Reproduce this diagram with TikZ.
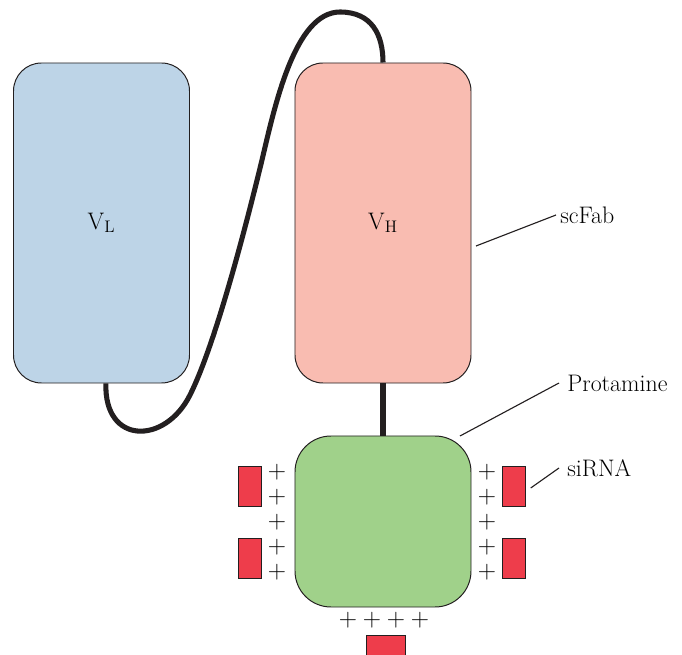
\documentclass[tikz,border=0pt]{standalone}
\usepackage{tikz}
\usetikzlibrary{positioning,calc}
\definecolor{lightblue}{HTML}{BDD4E7}
\definecolor{salmon}{HTML}{F9BCB1}
\definecolor{leafgreen}{HTML}{A0D18A}
\definecolor{rnared}{HTML}{EE3D4B}
\definecolor{outline}{HTML}{231F20}

\begin{document}
\begin{tikzpicture}[x=0.25mm,y=-0.25mm,
  font=\fontsize{17}{20}\selectfont,
  chain/.style={draw=outline,line width=0.7pt,rounded corners=7mm,minimum width=44mm,minimum height=80mm,inner sep=0pt},
  core/.style={draw=outline,line width=0.7pt,fill=leafgreen,rounded corners=9mm,minimum width=44mm,minimum height=42.75mm,inner sep=0pt},
  rna/.style={draw=outline,line width=0.6pt,fill=rnared,minimum width=5.75mm,minimum height=10mm,inner sep=0pt},
  chg/.style={inner sep=0pt,font=\fontsize{18}{18}\selectfont},
  link/.style={draw=outline,line width=3.6pt},
  tag/.style={draw=outline,line width=0.8pt},
  lbl/.style={anchor=west,inner sep=0pt}
]
\clip (0,0) rectangle (682,655);
\node[chain,fill=lightblue] (vl) at (101.5,223) {V\textsubscript{L}};
\node[chain,fill=salmon] (vh) at (383,223) {V\textsubscript{H}};
\node[core] (prot) at (383,521.5) {};
\draw[link] ([xshift=1.1mm]vl.south) .. controls (104,445) and (165,445) .. (190,395)
  .. controls (215,345) and (245,230) .. (262,160)
  .. controls (275,105) and (295,12) .. (340,12)
  .. controls (372,12) and (383,35) .. (vh.north);
\draw[link] (vh.south) -- (prot.north);
\foreach \y in {472,497,522,547,572} {
  \node[chg] at (277,\y) {+};
  \node[chg] at (487,\y) {+};
}
\foreach \x in {348,372,396,420} \node[chg] at (\x,620) {+};
\node[rna] (rl1) at (249.5,486) {};
\node[rna] (rl2) at (249.5,558.5) {};
\node[rna] (rr1) at (514,486) {};
\node[rna] (rr2) at (514,558.5) {};
\node[rna,minimum width=9.75mm] (rb) at (385.5,655) {};
\node[lbl] (scfab) at (560,215) {scFab};
\node[lbl] (protlbl) at (567,383) {Protamine};
\node[lbl] (sirna) at (567,468) {siRNA};
\coordinate (scfabpt) at (476,246);
\coordinate (protpt) at (460,436);
\draw[tag] ([xshift=-1mm]scfab.west) -- (scfabpt);
\draw[tag] ([xshift=-2mm]protlbl.west) -- (protpt);
\draw[tag] ([xshift=-2mm]sirna.west) -- ([xshift=1.2mm,yshift=-0.5mm]rr1.east);
\end{tikzpicture}
\end{document}
